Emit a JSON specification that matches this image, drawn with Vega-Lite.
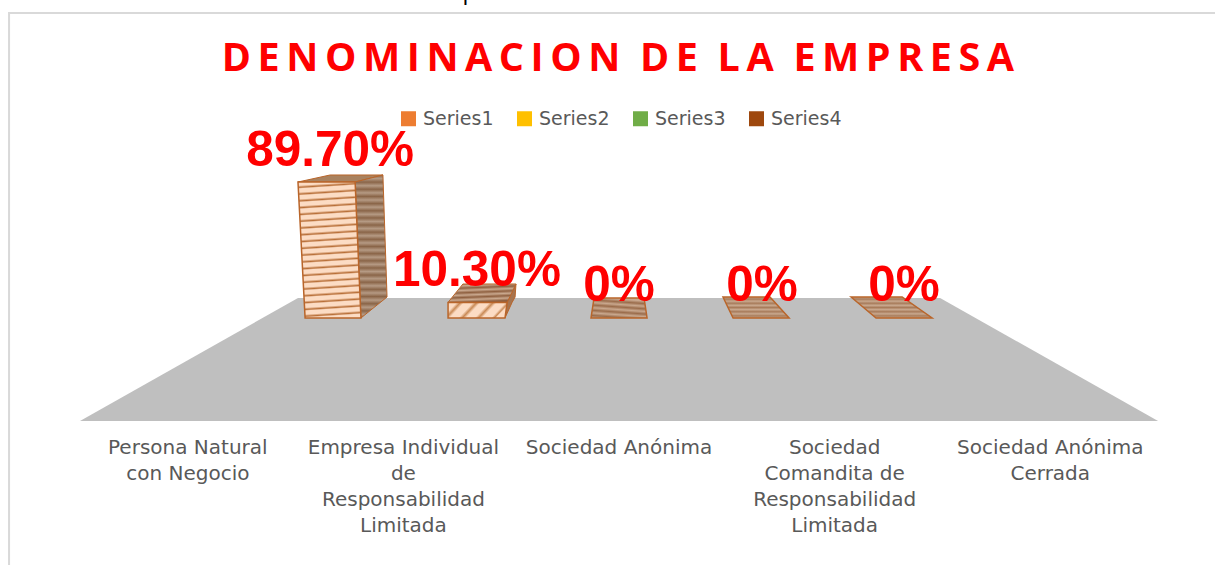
{
"$schema":"https://vega.github.io/schema/vega-lite/v6.json",
"width":1215,"height":565,
"autosize":"none",
"padding":0,
"background":"white",
"view":{"stroke":null},
"datasets":{
"faces":[
{"face":"floor","u":1.011,"u2":3.989,"v":13.19},
{"face":"floor","u":0,"u2":5,"v":-67.94},
{"face":"top1","u":1.16,"u2":1.405,"v":94.33},
{"face":"top1","u":1.011,"u2":1.276,"v":89.7},
{"face":"side1","u":1.405,"u2":1.405,"v":94.33},
{"face":"side1","u":1.276,"u2":1.406,"v":89.7},
{"face":"side1","u":1.299,"u2":1.424,"v":13.85},
{"face":"side1","u":1.303,"u2":1.303,"v":0},
{"face":"front1","u":1.011,"u2":1.276,"v":89.7},
{"face":"front1","u":1.044,"u2":1.303,"v":0},
{"face":"top2","u":1.776,"u2":2.022,"v":22.43},
{"face":"top2","u":1.707,"u2":1.981,"v":10.3},
{"face":"side2","u":2.022,"u2":2.022,"v":22.43},
{"face":"side2","u":1.994,"u2":2.018,"v":13.85},
{"face":"side2","u":1.981,"u2":2.004,"v":10.3},
{"face":"side2","u":1.971,"u2":1.971,"v":0},
{"face":"front2","u":1.707,"u2":1.981,"v":10.3},
{"face":"front2","u":1.707,"u2":1.971,"v":0},
{"face":"top3","u":2.384,"u2":2.616,"v":13.19},
{"face":"top3","u":2.37,"u2":2.63,"v":0},
{"face":"top4","u":2.982,"u2":3.2,"v":13.85},
{"face":"top4","u":3.029,"u2":3.289,"v":0},
{"face":"top5","u":3.576,"u2":3.813,"v":13.85},
{"face":"top5","u":3.692,"u2":3.952,"v":0}
],
"frame":[
{"seq":1,"u":-0.329,"v":-162.93},
{"seq":2,"u":-0.329,"v":201.2},
{"seq":3,"u":5.264,"v":201.2}
],
"categories":[
{"label":"Persona Natural\ncon Negocio","u":0.5,"v":-79.1},
{"label":"Empresa Individual\nde\nResponsabilidad\nLimitada","u":1.5,"v":-79.1},
{"label":"Sociedad Anónima","u":2.5,"v":-79.1},
{"label":"Sociedad\nComandita de\nResponsabilidad\nLimitada","u":3.5,"v":-79.1},
{"label":"Sociedad Anónima\nCerrada","u":4.5,"v":-79.1}
],
"values":[
{"label":"89.70%","u":1.16,"v":110.1},
{"label":"10.30%","u":1.841,"v":31},
{"label":"0%","u":2.5,"v":21.1},
{"label":"0%","u":3.163,"v":21.1},
{"label":"0%","u":3.822,"v":21.1}
],
"series":[
{"series":"Series1","u":0,"v":0},
{"series":"Series2","u":0,"v":0},
{"series":"Series3","u":0,"v":0},
{"series":"Series4","u":0,"v":0}
]
},
"encoding":{
"x":{"field":"u","type":"quantitative","axis":null,"scale":{"domain":[-0.371,5.264],"nice":false,"zero":false}},
"y":{"field":"v","type":"quantitative","axis":null,"scale":{"domain":[-162.93,209.76],"nice":false,"zero":false}}
},
"layer":[
{"data":{"name":"frame"},"mark":{"type":"line","color":"#d9d9d9","strokeWidth":2},"encoding":{"order":{"field":"seq","type":"ordinal"}}},
{"data":{"name":"faces"},"transform":[{"filter":"datum.face=='floor'"}],"mark":{"type":"area","orient":"horizontal","fill":"#bfbfbf"},"encoding":{"x2":{"field":"u2"}}},
{"data":{"name":"faces"},"transform":[{"filter":"datum.face=='top1'"}],"mark":{"type":"area","orient":"horizontal","fill":"#a9825f","stroke":"#b9652a","strokeWidth":1},"encoding":{"x2":{"field":"u2"}}},
{"data":{"name":"faces"},"transform":[{"filter":"datum.face=='side1'"}],"mark":{"type":"area","orient":"horizontal","stroke":"#b9652a","strokeWidth":1,"fill":{"gradient":"linear","x1":0,"y1":0,"x2":0,"y2":1,"stops":[{"offset":0,"color":"#8a6548"},{"offset":0.025,"color":"#b59a84"},{"offset":0.05,"color":"#8a6548"},{"offset":0.075,"color":"#b59a84"},{"offset":0.1,"color":"#8a6548"},{"offset":0.125,"color":"#b59a84"},{"offset":0.15,"color":"#8a6548"},{"offset":0.175,"color":"#b59a84"},{"offset":0.2,"color":"#8a6548"},{"offset":0.225,"color":"#b59a84"},{"offset":0.25,"color":"#8a6548"},{"offset":0.275,"color":"#b59a84"},{"offset":0.3,"color":"#8a6548"},{"offset":0.325,"color":"#b59a84"},{"offset":0.35,"color":"#8a6548"},{"offset":0.375,"color":"#b59a84"},{"offset":0.4,"color":"#8a6548"},{"offset":0.425,"color":"#b59a84"},{"offset":0.45,"color":"#8a6548"},{"offset":0.475,"color":"#b59a84"},{"offset":0.5,"color":"#8a6548"},{"offset":0.525,"color":"#b59a84"},{"offset":0.55,"color":"#8a6548"},{"offset":0.575,"color":"#b59a84"},{"offset":0.6,"color":"#8a6548"},{"offset":0.625,"color":"#b59a84"},{"offset":0.65,"color":"#8a6548"},{"offset":0.675,"color":"#b59a84"},{"offset":0.7,"color":"#8a6548"},{"offset":0.725,"color":"#b59a84"},{"offset":0.75,"color":"#8a6548"},{"offset":0.775,"color":"#b59a84"},{"offset":0.8,"color":"#8a6548"},{"offset":0.825,"color":"#b59a84"},{"offset":0.85,"color":"#8a6548"},{"offset":0.875,"color":"#b59a84"},{"offset":0.9,"color":"#8a6548"},{"offset":0.925,"color":"#b59a84"},{"offset":0.95,"color":"#8a6548"},{"offset":0.975,"color":"#b59a84"},{"offset":1,"color":"#8a6548"}]}},"encoding":{"x2":{"field":"u2"}}},
{"data":{"name":"faces"},"transform":[{"filter":"datum.face=='front1'"}],"mark":{"type":"area","orient":"horizontal","stroke":"#b9652a","strokeWidth":1.5,"fill":{"gradient":"linear","x1":0,"y1":0,"x2":0.03,"y2":1,"stops":[{"offset":0,"color":"#fcdcc4"},{"offset":0.025,"color":"#fcdcc4"},{"offset":0.04,"color":"#b86f38"},{"offset":0.05,"color":"#fcdcc4"},{"offset":0.075,"color":"#fcdcc4"},{"offset":0.09,"color":"#b86f38"},{"offset":0.1,"color":"#fcdcc4"},{"offset":0.125,"color":"#fcdcc4"},{"offset":0.14,"color":"#b86f38"},{"offset":0.15,"color":"#fcdcc4"},{"offset":0.175,"color":"#fcdcc4"},{"offset":0.19,"color":"#b86f38"},{"offset":0.2,"color":"#fcdcc4"},{"offset":0.225,"color":"#fcdcc4"},{"offset":0.24,"color":"#b86f38"},{"offset":0.25,"color":"#fcdcc4"},{"offset":0.275,"color":"#fcdcc4"},{"offset":0.29,"color":"#b86f38"},{"offset":0.3,"color":"#fcdcc4"},{"offset":0.325,"color":"#fcdcc4"},{"offset":0.34,"color":"#b86f38"},{"offset":0.35,"color":"#fcdcc4"},{"offset":0.375,"color":"#fcdcc4"},{"offset":0.39,"color":"#b86f38"},{"offset":0.4,"color":"#fcdcc4"},{"offset":0.425,"color":"#fcdcc4"},{"offset":0.44,"color":"#b86f38"},{"offset":0.45,"color":"#fcdcc4"},{"offset":0.475,"color":"#fcdcc4"},{"offset":0.49,"color":"#b86f38"},{"offset":0.5,"color":"#fcdcc4"},{"offset":0.525,"color":"#fcdcc4"},{"offset":0.54,"color":"#b86f38"},{"offset":0.55,"color":"#fcdcc4"},{"offset":0.575,"color":"#fcdcc4"},{"offset":0.59,"color":"#b86f38"},{"offset":0.6,"color":"#fcdcc4"},{"offset":0.625,"color":"#fcdcc4"},{"offset":0.64,"color":"#b86f38"},{"offset":0.65,"color":"#fcdcc4"},{"offset":0.675,"color":"#fcdcc4"},{"offset":0.69,"color":"#b86f38"},{"offset":0.7,"color":"#fcdcc4"},{"offset":0.725,"color":"#fcdcc4"},{"offset":0.74,"color":"#b86f38"},{"offset":0.75,"color":"#fcdcc4"},{"offset":0.775,"color":"#fcdcc4"},{"offset":0.79,"color":"#b86f38"},{"offset":0.8,"color":"#fcdcc4"},{"offset":0.825,"color":"#fcdcc4"},{"offset":0.84,"color":"#b86f38"},{"offset":0.85,"color":"#fcdcc4"},{"offset":0.875,"color":"#fcdcc4"},{"offset":0.89,"color":"#b86f38"},{"offset":0.9,"color":"#fcdcc4"},{"offset":0.925,"color":"#fcdcc4"},{"offset":0.94,"color":"#b86f38"},{"offset":0.95,"color":"#fcdcc4"},{"offset":0.975,"color":"#fcdcc4"},{"offset":0.99,"color":"#b86f38"},{"offset":1,"color":"#fcdcc4"}]}},"encoding":{"x2":{"field":"u2"}}},
{"data":{"name":"faces"},"transform":[{"filter":"datum.face=='side2'"}],"mark":{"type":"area","orient":"horizontal","fill":"#a6744f","stroke":"#b9652a","strokeWidth":1},"encoding":{"x2":{"field":"u2"}}},
{"data":{"name":"faces"},"transform":[{"filter":"datum.face=='top2'"}],"mark":{"type":"area","orient":"horizontal","stroke":"#b9652a","strokeWidth":1,"fill":{"gradient":"linear","x1":0,"y1":0,"x2":0.15,"y2":1,"stops":[{"offset":0,"color":"#8f6040"},{"offset":0.125,"color":"#c9a88e"},{"offset":0.25,"color":"#8f6040"},{"offset":0.375,"color":"#c9a88e"},{"offset":0.5,"color":"#8f6040"},{"offset":0.625,"color":"#c9a88e"},{"offset":0.75,"color":"#8f6040"},{"offset":0.875,"color":"#c9a88e"},{"offset":1,"color":"#8f6040"}]}},"encoding":{"x2":{"field":"u2"}}},
{"data":{"name":"faces"},"transform":[{"filter":"datum.face=='front2'"}],"mark":{"type":"area","orient":"horizontal","stroke":"#b9652a","strokeWidth":1.5,"fill":{"gradient":"linear","x1":0,"y1":0,"x2":1,"y2":0.25,"stops":[{"offset":0,"color":"#fcdcc4"},{"offset":0.14,"color":"#fcdcc4"},{"offset":0.2,"color":"#c98a56"},{"offset":0.26,"color":"#fcdcc4"},{"offset":0.4,"color":"#fcdcc4"},{"offset":0.46,"color":"#c98a56"},{"offset":0.52,"color":"#fcdcc4"},{"offset":0.66,"color":"#fcdcc4"},{"offset":0.72,"color":"#c98a56"},{"offset":0.78,"color":"#fcdcc4"},{"offset":0.92,"color":"#fcdcc4"},{"offset":0.97,"color":"#c98a56"},{"offset":1,"color":"#fcdcc4"}]}},"encoding":{"x2":{"field":"u2"}}},
{"data":{"name":"faces"},"transform":[{"filter":"datum.face=='top3'"}],"mark":{"type":"area","orient":"horizontal","stroke":"#b9652a","strokeWidth":1.5,"fill":{"gradient":"linear","x1":0.2,"y1":0,"x2":0,"y2":1,"stops":[{"offset":0,"color":"#c9a88e"},{"offset":0.125,"color":"#9a6c4b"},{"offset":0.25,"color":"#c9a88e"},{"offset":0.375,"color":"#9a6c4b"},{"offset":0.5,"color":"#c9a88e"},{"offset":0.625,"color":"#9a6c4b"},{"offset":0.75,"color":"#c9a88e"},{"offset":0.875,"color":"#9a6c4b"},{"offset":1,"color":"#c9a88e"}]}},"encoding":{"x2":{"field":"u2"}}},
{"data":{"name":"faces"},"transform":[{"filter":"datum.face=='top4'"}],"mark":{"type":"area","orient":"horizontal","stroke":"#b9652a","strokeWidth":1.5,"fill":{"gradient":"linear","x1":0,"y1":0,"x2":0,"y2":1,"stops":[{"offset":0,"color":"#c9a88e"},{"offset":0.1,"color":"#a87c5b"},{"offset":0.2,"color":"#c9a88e"},{"offset":0.3,"color":"#a87c5b"},{"offset":0.4,"color":"#c9a88e"},{"offset":0.5,"color":"#a87c5b"},{"offset":0.6,"color":"#c9a88e"},{"offset":0.7,"color":"#a87c5b"},{"offset":0.8,"color":"#c9a88e"},{"offset":0.9,"color":"#a87c5b"},{"offset":1,"color":"#c9a88e"}]}},"encoding":{"x2":{"field":"u2"}}},
{"data":{"name":"faces"},"transform":[{"filter":"datum.face=='top5'"}],"mark":{"type":"area","orient":"horizontal","stroke":"#b9652a","strokeWidth":1.5,"fill":{"gradient":"linear","x1":0,"y1":0,"x2":0,"y2":1,"stops":[{"offset":0,"color":"#c9a88e"},{"offset":0.1,"color":"#a87c5b"},{"offset":0.2,"color":"#c9a88e"},{"offset":0.3,"color":"#a87c5b"},{"offset":0.4,"color":"#c9a88e"},{"offset":0.5,"color":"#a87c5b"},{"offset":0.6,"color":"#c9a88e"},{"offset":0.7,"color":"#a87c5b"},{"offset":0.8,"color":"#c9a88e"},{"offset":0.9,"color":"#a87c5b"},{"offset":1,"color":"#c9a88e"}]}},"encoding":{"x2":{"field":"u2"}}},
{"data":{"name":"values"},"mark":{"type":"text","font":"Liberation Sans","fontWeight":"bold","fontSize":49.5,"color":"#ff0000","align":"center","baseline":"middle"},"encoding":{"text":{"field":"label"}}},
{"data":{"name":"categories"},"mark":{"type":"text","font":"DejaVu Sans","fontSize":20,"color":"#595959","align":"center","baseline":"top","lineBreak":"\n","lineHeight":26},"encoding":{"text":{"field":"label"}}},
{"data":{"values":[{"label":"D\u2009E\u2009N\u2009O\u2009M\u2009I\u2009N\u2009A\u2009C\u2009I\u2009O\u2009N\u2009\u2009\u2009D\u2009E\u2009\u2009\u2009L\u2009A\u2009\u2009\u2009E\u2009M\u2009P\u2009R\u2009E\u2009S\u2009A","u":2.495,"v":170.8}]},"mark":{"type":"text","font":"Open Sans","fontWeight":"bold","fontSize":39.5,"color":"#ff0000","align":"center","baseline":"middle"},"encoding":{"text":{"field":"label"}}},
{"data":{"values":[{"label":"p","u":1.805,"v":209.76}]},"mark":{"type":"text","font":"Liberation Sans","fontSize":22,"color":"#000000","align":"center","baseline":"alphabetic","clip":true},"encoding":{"text":{"field":"label"}}},
{"data":{"name":"series"},"mark":{"type":"point","filled":true,"size":0,"opacity":0},"encoding":{"color":{"field":"series","type":"nominal","scale":{"domain":["Series1","Series2","Series3","Series4"],"range":["#ed7d31","#ffc000","#70ad47","#9e480e"]},"legend":{"orient":"none","legendX":399,"legendY":109,"direction":"horizontal","title":null,"symbolType":"square","symbolSize":225,"symbolOpacity":1,"labelFont":"DejaVu Sans","labelFontSize":19,"labelColor":"#595959","labelOffset":5,"columnPadding":21,"padding":0}}}}
]
}
